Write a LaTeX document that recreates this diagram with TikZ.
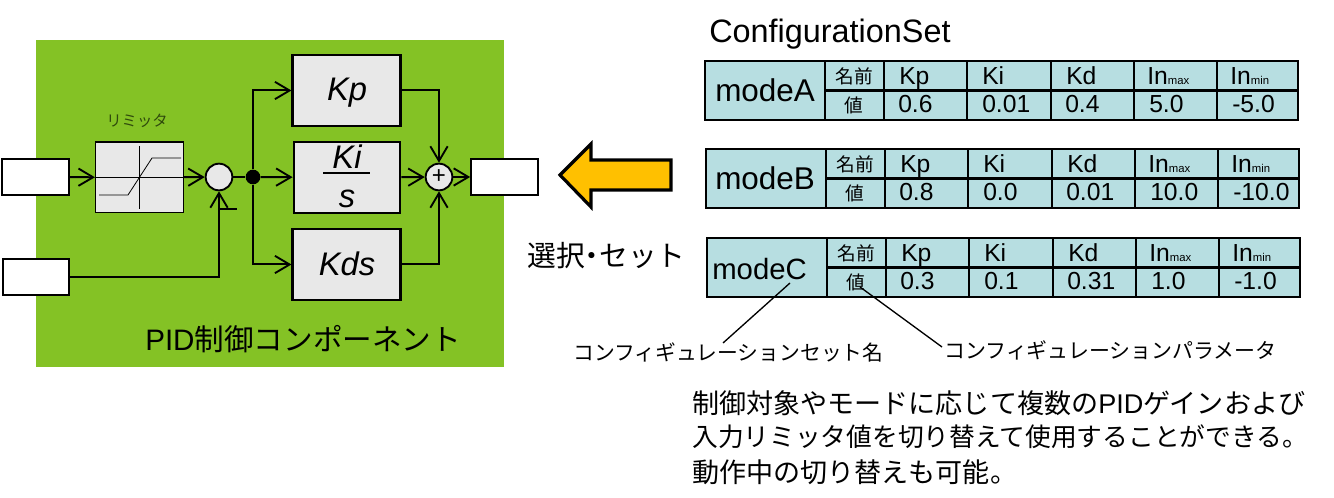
\documentclass[tikz,border=0pt]{standalone}
\usepackage{fontspec}
\setmainfont{Liberation Sans}
\newfontfamily\jp{Noto Sans CJK JP}
\usetikzlibrary{arrows.meta,calc}
\definecolor{pidgreen}{HTML}{84C225}
\definecolor{boxgray}{HTML}{E8E8E8}
\definecolor{teal}{HTML}{B7DEE1}
\definecolor{amber}{HTML}{FFC000}
\definecolor{limtext}{HTML}{2F4A0C}
\tikzset{
  x=0.75pt,y=-0.75pt,
  pidblock/.style={draw=black,line width=1.6pt,fill=boxgray,inner sep=0pt,minimum width=81pt,minimum height=53pt},
  portbox/.style={draw=black,line width=1.5pt,fill=white,inner sep=0pt,minimum width=50pt,minimum height=26.5pt},
  sumnode/.style={circle,draw=black,line width=1.4pt,fill=boxgray,inner sep=0pt,minimum size=20pt},
  joint/.style={circle,fill=black,inner sep=0pt,minimum size=11pt},
  conn/.style={draw=black,line width=1.5pt},
  arr/.style={conn,-{Straight Barb[length=11pt,width=13pt,line width=1.4pt]}},
  lead/.style={draw=black,line width=1pt},
  tabline/.style={draw=black,line width=1.8pt},
  blocktext/.style={inner sep=0pt,anchor=base,font=\itshape\fontsize{24.5}{28}\selectfont},
  hdr/.style={anchor=base west,inner sep=0pt,font=\fontsize{18.5}{20}\selectfont},
  val/.style={anchor=base west,inner sep=0pt,font=\fontsize{18.5}{20}\selectfont},
  jpcell/.style={anchor=center,inner sep=0pt,font=\jp\fontsize{14}{15}\selectfont},
  modename/.style={anchor=base west,inner sep=0pt},
  jptext/.style={anchor=west,inner sep=0pt,font=\jp\fontsize{15.6}{18}\selectfont},
  para/.style={anchor=west,inner sep=0pt,font=\jp\fontsize{20.3}{22}\selectfont},
  paranarrow/.style={anchor=west,inner sep=0pt,font=\jp\fontsize{19.3}{22}\selectfont},
}
\newcommand{\InSub}[1]{I{\fontsize{18.5}{20}\selectfont n}{\fontsize{8.5}{10}\selectfont #1}}
\newcommand{\modetable}[8]{%
  \begin{scope}[shift={(#2,#3)}]
    \fill[teal] (0,0) rectangle (593,#4);
    \draw[tabline] (0,0) rectangle (593,#4);
    \draw[tabline] (120,#4/2) -- (593,#4/2);
    \foreach \cx in {120,179,262,346,429,512} \draw[tabline] (\cx,0) -- (\cx,#4);
    \node[modename,font=\fontsize{#7}{#7}\selectfont] (#1name) at (#6,#8) {#5};
    \node[jpcell] (#1nm) at (149,15) {名前};
    \node[jpcell] (#1vl) at (149,44) {値};
    \node[hdr] (#1kp) at (194,24) {Kp};
    \node[hdr] (#1ki) at (277,24) {Ki};
    \node[hdr] (#1kd) at (361,24) {Kd};
    \node[hdr] (#1mx) at (442,24) {\InSub{max}};
    \node[hdr] (#1mn) at (525,24) {\InSub{min}};
  \end{scope}%
}
\newcommand{\modevals}[7]{%
  \begin{scope}[shift={(#1,#2)}]
    \node[val] at (193,52) {#3};
    \node[val] at (277,52) {#4};
    \node[val] at (360,52) {#5};
    \node[val] at (444,52) {#6};
    \node[val] at (527,52) {#7};
  \end{scope}%
}
\begin{document}
\begin{tikzpicture}
\useasboundingbox (0,0) rectangle (1334,498);
\fill[pidgreen] (36,40) rectangle (504,367);
% blocks
\node[portbox] (in1) at (35.5,177) {};
\node[portbox] (in2) at (36,277) {};
\node[portbox] (out) at (504.5,177) {};
\node[draw=black,line width=0.8pt,fill=boxgray,inner sep=0pt,minimum width=66pt,minimum height=53.2pt] (lim) at (139.5,177.5) {};
\node[anchor=center,inner sep=0pt,text=limtext,font=\jp\fontsize{11.5}{13}\selectfont] (limlabel) at (137,121) {リミッタ};
\node[sumnode] (sum) at (219,177) {};
\node[joint] (dot) at (253,177) {};
\node[pidblock] (kp) at (346.5,90.5) {};
\node[pidblock,minimum width=80pt] (ki) at (347,177.5) {};
\node[pidblock] (kd) at (346.5,264.5) {};
\node[sumnode,font=\fontsize{18}{18}\selectfont] (plus) at (439,177) {+};
\node[blocktext] (kptext) at (347,101) {Kp};
\node[blocktext] (kitext) at (347,169) {Ki};
\node[blocktext] (kiden) at (347,208) {s};
\node[blocktext] (kdtext) at (347,276) {Kds};
\draw[line width=1.5pt] (323,173) -- (370,173);
% limiter graph
\draw[line width=0.6pt,black] (lim.west) -- (lim.east);
\draw[line width=0.6pt,black] (139.5,146) -- (139.5,209);
\draw[line width=0.6pt,black] (99,195) -- (128,195) -- (152,158) -- (181,158);
% connectors
\draw[arr] (in1) -- (lim);
\draw[arr] (lim) -- (sum);
\draw[arr] (in2) -| (sum);
\draw[line width=1.2pt] (220,209) -- (237,209);
\draw[conn] (sum) -- (dot);
\draw[arr] (dot) |- (kp);
\draw[arr] (dot) -- (ki);
\draw[arr] (dot) |- (kd);
\draw[arr] (kp) -| (plus);
\draw[arr] (ki) -- (plus);
\draw[arr] (kd) -| (plus);
\draw[arr] (plus) -- (out);
\node[anchor=west,inner sep=0pt,font=\fontsize{22.2}{26}\selectfont] (pidlabel) at (145,339) {PID{\jp 制御コンポーネント}};
% big arrow
\draw[fill=amber,draw=black,line width=2.4pt,miter limit=10] (560,175) -- (591,144) -- (591,160) -- (671,160) -- (671,190) -- (591,190) -- (591,207) -- cycle;
\node[anchor=west,inner sep=0pt,font=\jp\fontsize{21.6}{24}\selectfont] (select) at (527,256) {選択\kern-.25em・\kern-.25emセット};
% tables
\node[anchor=base west,inner sep=0pt,font=\fontsize{24.3}{28}\selectfont] (cfg) at (709,43) {ConfigurationSet};
\modetable{a}{705}{61}{59}{modeA}{10}{23.6}{41}
\modevals{705}{61}{0.6}{0.01}{0.4}{5.0}{-5.0}
\modetable{b}{706}{149}{59}{modeB}{9}{23.6}{41}
\modevals{706}{149}{0.8}{0.0}{0.01}{10.0}{-10.0}
\modetable{c}{707}{238}{59}{modeC}{5}{22}{42}
\modevals{707}{238}{0.3}{0.1}{0.31}{1.0}{-1.0}
% captions
\node[jptext] (cap1) at (573,352) {コンフィギュレーションセット名};
\node[jptext,font=\jp\fontsize{15.7}{18}\selectfont] (cap2) at (944,350) {コンフィギュレーションパラメータ};
\coordinate (l1a) at (790,283);
\coordinate (l1b) at (723,343);
\coordinate (l2a) at (860,287);
\coordinate (l2b) at (942,347);
\draw[lead] (l1a) -- (l1b);
\draw[lead] (l2a) -- (l2b);
% paragraph
\node[para] (p1) at (692,403) {制御対象やモードに応じて複数の{\fontfamily{\rmdefault}\selectfont PID}ゲインおよび};
\node[paranarrow] (p2) at (692,437) {入力リミッタ値を切り替えて使用することができる。};
\node[para] (p3) at (692,472) {動作中の切り替えも可能。};
\end{tikzpicture}
\end{document}
